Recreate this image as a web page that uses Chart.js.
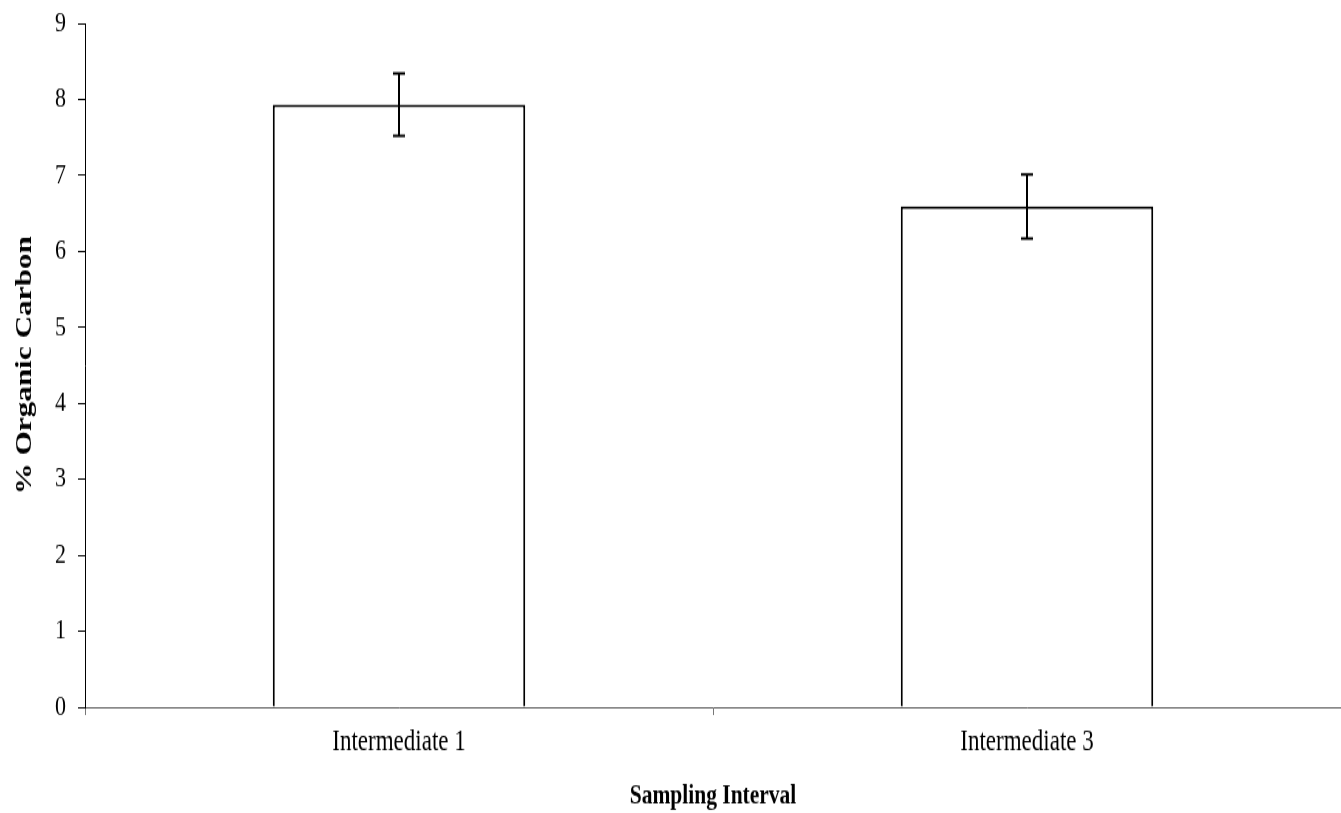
<!DOCTYPE html>
<html>
<head>
<meta charset="utf-8">
<script src="https://cdn.jsdelivr.net/npm/chart.js@4/dist/chart.umd.min.js"></script>
<style>
  html, body { margin: 0; padding: 0; background: #fff; width: 1341px; height: 813px; overflow: hidden; }
  /* the printed figure is taller than it is wide-scaled, so stretch it a bit vertically */
  #wrap { position: absolute; left: 0; top: 0; width: 1341px; height: 625px; transform: scaleY(1.3); transform-origin: 0 0; }
</style>
</head>
<body>
<div id="wrap"><canvas id="myChart" width="1341" height="625"></canvas></div>
<script>
var categories = ["Intermediate 1", "Intermediate 3"];
var carbon = [7.93, 6.59];      // mean % organic carbon
var carbonErr = [0.41, 0.42];   // +/- error
var yTicks = [0, 1, 2, 3, 4, 5, 6, 7, 8, 9];

var serif = "'Liberation Serif', 'Times New Roman', serif";

// draws the I-shaped error bars on top of each bar
var errorBars = {
  id: "errorBars",
  afterDatasetsDraw: function(chart) {
    var ctx = chart.ctx;
    var yScale = chart.scales.y;
    var meta = chart.getDatasetMeta(0);
    ctx.save();
    ctx.strokeStyle = "#000";
    ctx.lineWidth = 2;
    meta.data.forEach(function(bar, i) {
      var x = bar.x;
      var top = yScale.getPixelForValue(carbon[i] + carbonErr[i]);
      var bot = yScale.getPixelForValue(carbon[i] - carbonErr[i]);
      ctx.beginPath();
      ctx.moveTo(x, top); ctx.lineTo(x, bot);
      ctx.moveTo(x - 6, top); ctx.lineTo(x + 6, top);
      ctx.moveTo(x - 6, bot); ctx.lineTo(x + 6, bot);
      ctx.stroke();
    });
    ctx.restore();
  }
};

new Chart("myChart", {
  type: "bar",
  data: {
    labels: categories,
    datasets: [{
      data: carbon,
      backgroundColor: "#fff",
      borderColor: "#000",
      borderWidth: 2,
      barPercentage: 0.402,
      categoryPercentage: 1
    }]
  },
  plugins: [errorBars],
  options: {
    responsive: false,
    animation: false,
    layout: { padding: { top: 18, right: -4, left: 0, bottom: 0 } },
    plugins: { legend: { display: false }, tooltip: { enabled: false } },
    scales: {
      x: {
        grid: { drawOnChartArea: false, tickLength: 6, color: "#777", offset: true },
        border: { color: "#555", width: 1 },
        ticks: { color: "#000", padding: 7, font: { family: serif, size: 23 } },
        title: {
          display: true,
          text: "Sampling Interval",
          color: "#000",
          font: { family: serif, size: 21.5, weight: "bold" },
          padding: { top: 17, bottom: 0 }
        },
        afterFit: function(scale) { scale.height = 81; }
      },
      y: {
        min: 0,
        max: 9,
        afterBuildTicks: function(scale) {
          scale.ticks = yTicks.map(function(v) { return { value: v }; });
        },
        grid: { drawOnChartArea: false, tickLength: 7, color: "#000" },
        border: { color: "#000", width: 1 },
        ticks: { color: "#000", padding: 12, font: { family: serif, size: 22 } },
        title: {
          display: true,
          text: "% Organic Carbon",
          color: "#000",
          font: { family: serif, size: 24, weight: "bold" },
          padding: { top: 10, bottom: 0 }
        },
        afterFit: function(scale) {
          scale.width = 85;
          scale.paddingTop = 0;
          scale.paddingBottom = 0;
        }
      }
    }
  }
});
</script>
</body>
</html>
